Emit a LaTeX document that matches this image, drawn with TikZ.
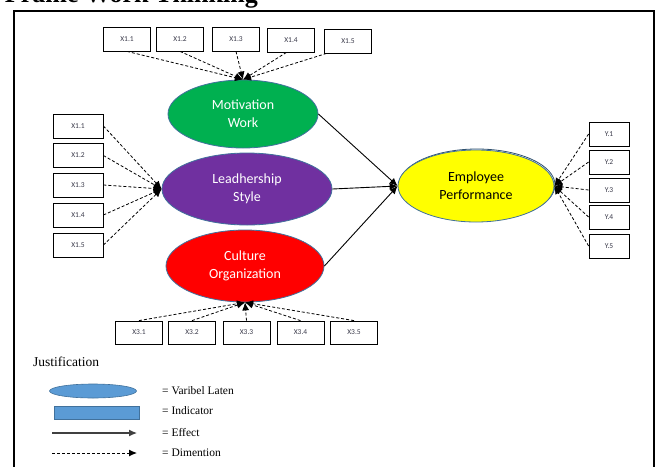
\documentclass[tikz,border=0pt]{standalone}
\usepackage{fontspec}
\setmainfont{Liberation Serif}
\newfontfamily\calfont{Carlito}
\usepackage{tikz}
\usetikzlibrary{arrows.meta, positioning, shapes.geometric}

\definecolor{mwgreen}{HTML}{00B050}
\definecolor{lspurple}{HTML}{7030A0}
\definecolor{cored}{HTML}{FF0000}
\definecolor{epyellow}{HTML}{FFFF00}
\definecolor{edgeblue}{HTML}{41719C}
\definecolor{lgblue}{HTML}{5B9BD5}
\definecolor{boxtext}{HTML}{3A3A4A}

\begin{document}
\begin{tikzpicture}[x=1pt, y=-1pt,
    latent/.style={ellipse, draw=edgeblue, line width=0.8pt, inner sep=0pt, align=center,
        font=\calfont\fontsize{14}{18}\selectfont},
    indic/.style={rectangle, draw=black, line width=0.8pt, fill=white, inner sep=0pt,
        text=boxtext, font=\calfont\fontsize{7.5}{9}\selectfont},
    dim/.style={dash pattern=on 3pt off 2pt, line width=0.8pt, -{Latex[length=8pt, width=7pt]}},
    eff/.style={line width=0.9pt, -{Latex[length=8pt, width=7pt]}},
    lgtext/.style={anchor=west, inner sep=0pt, font=\fontsize{11.5}{13}\selectfont}]
    \useasboundingbox (0,0) rectangle (660,466);

    %---------------- Title and frame ----------------%
    \node[anchor=base east, inner sep=0pt, font=\bfseries\fontsize{26}{30}\selectfont] (title) at (258,2) {Frame Work Thinking};
    \draw[line width=1.6pt] (14,11) rectangle (654,490);

    %---------------- Latent variables ----------------%
    \node[latent, fill=mwgreen, text=white, minimum width=150, minimum height=68] (mw) at (243,114) {Motivation\\Work};
    \node[latent, fill=lspurple, text=white, minimum width=170, minimum height=72] (ls) at (247,189) {Leadhership\\Style};
    \node[latent, fill=cored, text=white, minimum width=158, minimum height=72] (co) at (245,266) {Culture\\Organization};
    \node[ellipse, draw=edgeblue!70!black, line width=0.8pt, minimum width=156, minimum height=72] (ep2) at (477,185) {};
    \node[latent, fill=epyellow, text=black, minimum width=156, minimum height=72] (ep) at (476,186) {Employee\\Performance};

    %---------------- Indicators: top ----------------%
    \node[indic, minimum width=47, minimum height=24] (a1) at (127,39) {X1.1};
    \node[indic, minimum width=47, minimum height=24] (a2) at (180,39) {X1.2};
    \node[indic, minimum width=47, minimum height=24] (a3) at (236,39) {X1.3};
    \node[indic, minimum width=47, minimum height=24] (a4) at (291,40) {X1.4};
    \node[indic, minimum width=47, minimum height=24] (a5) at (348,41) {X1.5};
    \draw[dim] (a1.south) -- (mw.north);
    \draw[dim] (a2.south) -- (mw.north);
    \draw[dim] (a3.south) -- (mw.north);
    \draw[dim] (a4.250) -- (mw.north);
    \draw[dim] (a5.210) -- (mw.north);

    %---------------- Indicators: left ----------------%
    \node[indic, minimum width=50, minimum height=24] (b1) at (78,126) {X1.1};
    \node[indic, minimum width=50, minimum height=24] (b2) at (78,155.5) {X1.2};
    \node[indic, minimum width=50, minimum height=24] (b3) at (78,185) {X1.3};
    \node[indic, minimum width=50, minimum height=24] (b4) at (78,215) {X1.4};
    \node[indic, minimum width=50, minimum height=24] (b5) at (78,245) {X1.5};
    \draw[dim] (b1.east) -- (ls.west);
    \draw[dim] (b2.east) -- (ls.west);
    \draw[dim] (b3.east) -- (ls.west);
    \draw[dim] (b4.east) -- (ls.west);
    \draw[dim] (b5.east) -- (ls.west);

    %---------------- Indicators: bottom ----------------%
    \node[indic, minimum width=47, minimum height=23] (c1) at (139,332.5) {X3.1};
    \node[indic, minimum width=47, minimum height=23] (c2) at (192,332.5) {X3.2};
    \node[indic, minimum width=47, minimum height=23] (c3) at (246.5,332.5) {X3.3};
    \node[indic, minimum width=47, minimum height=23] (c4) at (300.5,332.5) {X3.4};
    \node[indic, minimum width=47, minimum height=23] (c5) at (354,332.5) {X3.5};
    \draw[dim] (c1.north) -- (co.south);
    \draw[dim] (c2.north) -- (co.south);
    \draw[dim] (c3.north) -- (co.south);
    \draw[dim] (c4.north) -- (co.south);
    \draw[dim] (c5.north) -- (co.south);

    %---------------- Indicators: right ----------------%
    \node[indic, minimum width=40, minimum height=24] (y1) at (609,134) {Y.1};
    \node[indic, minimum width=40, minimum height=24] (y2) at (609,162) {Y.2};
    \node[indic, minimum width=40, minimum height=24] (y3) at (609,190) {Y.3};
    \node[indic, minimum width=40, minimum height=24] (y4) at (609,217) {Y.4};
    \node[indic, minimum width=40, minimum height=24] (y5) at (609,246) {Y.5};
    \draw[dim] (y1.west) -- (ep.east);
    \draw[dim] (y2.west) -- (ep.east);
    \draw[dim] (y3.west) -- (ep.east);
    \draw[dim] (y4.west) -- (ep.east);
    \draw[dim] (y5.west) -- (ep.east);

    %---------------- Effects ----------------%
    \draw[eff] (mw.east) -- (ep.west);
    \draw[eff] (ls.east) -- (ep.west);
    \draw[eff] (co.east) -- (ep.west);

    %---------------- Legend ----------------%
    \node[anchor=west, inner sep=0pt, font=\fontsize{13.5}{15}\selectfont] (just) at (33,362) {Justification};
    \node[ellipse, draw=edgeblue, fill=lgblue, line width=0.6pt, minimum width=87, minimum height=14, inner sep=0pt] (lgell) at (93,391) {};
    \node[rectangle, draw=edgeblue, fill=lgblue, line width=0.6pt, minimum width=85, minimum height=13, inner sep=0pt] (lgrect) at (96.5,412.5) {};
    \coordinate (e1) at (52,433);
    \coordinate (e2) at (137,433);
    \coordinate (d1) at (52,453);
    \coordinate (d2) at (137,453);
    \draw[eff, draw=black!75, line width=1.2pt] (e1) -- (e2);
    \draw[dim, line width=1pt] (d1) -- (d2);
    \node[lgtext] (t1) at (162,391) {= Varibel Laten};
    \node[lgtext] (t2) at (162,411) {= Indicator};
    \node[lgtext] (t3) at (162,432) {= Effect};
    \node[lgtext] (t4) at (162,453) {= Dimention};
\end{tikzpicture}
\end{document}
